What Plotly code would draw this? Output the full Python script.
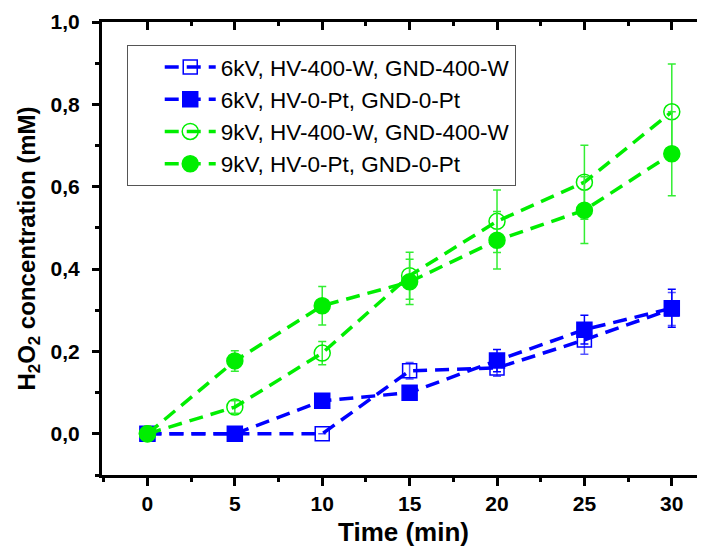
import plotly.graph_objects as go

time_min = [0, 5, 10, 15, 20, 25, 30]

y_6kv_w = [0.0, 0.0, 0.0, 0.153, 0.160, 0.228, 0.303]
e_6kv_w = [0.0, 0.0, 0.0, 0.020, 0.020, 0.035, 0.040]

y_6kv_pt = [0.0, 0.0, 0.080, 0.100, 0.178, 0.253, 0.305]
e_6kv_pt = [0.0, 0.0, 0.0, 0.0, 0.027, 0.035, 0.046]

y_9kv_w = [0.0, 0.065, 0.196, 0.384, 0.516, 0.611, 0.782]
e_9kv_w = [0.0, 0.015, 0.028, 0.057, 0.076, 0.090, 0.116]

y_9kv_pt = [0.0, 0.177, 0.311, 0.369, 0.470, 0.543, 0.680]
e_9kv_pt = [0.0, 0.025, 0.047, 0.055, 0.070, 0.081, 0.102]

names = ["6kV, HV-400-W, GND-400-W", "6kV, HV-0-Pt, GND-0-Pt",
         "9kV, HV-400-W, GND-400-W", "9kV, HV-0-Pt, GND-0-Pt"]

x_ticks = [0, 5, 10, 15, 20, 25, 30]
y_ticks = [0.0, 0.2, 0.4, 0.6, 0.8, 1.0]
y_ticklabels = ["0,0", "0,2", "0,4", "0,6", "0,8", "1,0"]

BLUE = "#0000FF"
GREEN = "#00EE00"
DASH = "14px,8px"
FONT = "Liberation Sans"
XR = [-2.6, 31.9]

series = [
    (y_6kv_w, e_6kv_w, BLUE, "square-open", 14, "#5555FF"),
    (y_6kv_pt, e_6kv_pt, BLUE, "square", 15, BLUE),
    (y_9kv_w, e_9kv_w, GREEN, "circle-open", 16, "#33EE33"),
    (y_9kv_pt, e_9kv_pt, GREEN, "circle", 16, "#33EE33"),
]

fig = go.Figure()
for (yv, ev, col, sym, sz, ecol), nm in zip(series, names):
    fig.add_trace(go.Scatter(
        x=time_min, y=yv, name=nm, mode="lines+markers",
        line=dict(color=col, width=3.5, dash=DASH),
        marker=dict(symbol=sym, size=sz, color=col, line=dict(color=col, width=1.5)),
        error_y=dict(type="data", array=ev, visible=True, color=ecol, thickness=1.5, width=4),
    ))

# dummy trace for top axis
fig.add_trace(go.Scatter(x=[None], y=[None], xaxis="x2", showlegend=False, hoverinfo="skip"))

tick_font = dict(family=FONT, size=21, color="black", weight="bold")

fig.update_layout(
    width=697, height=541,
    margin=dict(l=94, r=0, t=14, b=74),
    paper_bgcolor="white", plot_bgcolor="white",
    font=dict(family=FONT, color="black"),
    xaxis=dict(
        range=XR, tickmode="array", tickvals=x_ticks, automargin=False,
        ticks="outside", ticklen=8, tickwidth=3, tickcolor="black",
        showline=True, linewidth=3, linecolor="black", showgrid=False, zeroline=False,
        tickfont=tick_font,
        minor=dict(tickmode="array", tickvals=[-2.5, 2.5, 7.5, 12.5, 17.5, 22.5, 27.5],
                   ticks="outside", ticklen=4, tickwidth=3, tickcolor="black"),
        title=dict(text="Time (min)", font=dict(size=26, weight="bold", family=FONT), standoff=9),
    ),
    xaxis2=dict(
        overlaying="x", side="top", anchor="y", range=XR, automargin=False,
        tickmode="array", tickvals=x_ticks, ticks="inside", ticklen=8, tickwidth=3,
        tickcolor="black", showticklabels=False, showline=True, linewidth=3,
        linecolor="black", showgrid=False, zeroline=False,
        minor=dict(tickmode="array", tickvals=[2.5, 7.5, 12.5, 17.5, 22.5, 27.5],
                   ticks="inside", ticklen=4, tickwidth=3, tickcolor="black"),
    ),
    yaxis=dict(
        range=[-0.1, 1.0], tickmode="array", tickvals=y_ticks, ticktext=y_ticklabels,
        automargin=False, ticklabelstandoff=8,
        ticks="outside", ticklen=7, tickwidth=3, tickcolor="black",
        showline=True, linewidth=3, linecolor="black", showgrid=False, zeroline=False,
        tickfont=tick_font,
        minor=dict(tickmode="array", tickvals=[-0.1, 0.1, 0.3, 0.5, 0.7, 0.9],
                   ticks="outside", ticklen=4, tickwidth=3, tickcolor="black"),
        title=dict(text="H<sub>2</sub>O<sub>2</sub> concentration (mM)",
                   font=dict(size=24, weight="bold", family=FONT), standoff=9),
    ),
    legend=dict(
        x=0.041, y=0.9496, xanchor="left", yanchor="top",
        bgcolor="white", bordercolor="#555555", borderwidth=1,
        font=dict(size=22.5, family=FONT, color="black"),
        indentation=32, itemwidth=51, tracegroupgap=0,
        entrywidth=362, entrywidthmode="pixels",
    ),
    showlegend=True,
)

fig.write_html("out.html")
